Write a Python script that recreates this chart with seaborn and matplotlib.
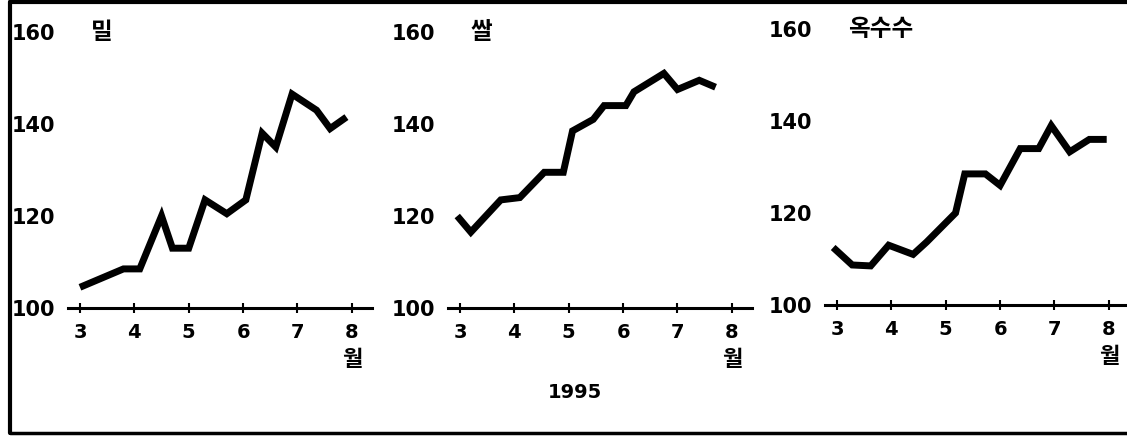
import numpy as np
import pandas as pd
import matplotlib
matplotlib.use('Agg')
import matplotlib.pyplot as plt
import seaborn as sns

# monthly price index, 1995
wheat_month = [3.0, 3.6, 3.8, 4.1, 4.5, 4.7, 5.0, 5.3, 5.7, 6.05, 6.35, 6.6, 6.9, 7.35, 7.6, 7.9]
wheat_index = [104.5, 107.5, 108.5, 108.5, 120, 113, 113, 123.5, 120.5, 123.5, 138, 135, 146.5, 143, 139, 141.5]

rice_month = [2.95, 3.2, 3.75, 4.1, 4.55, 4.9, 5.07, 5.45, 5.65, 6.05, 6.2, 6.75, 7.0, 7.4, 7.7]
rice_index = [120, 116.5, 123.5, 124, 129.5, 129.5, 138.5, 141, 144, 144, 147, 151, 147.5, 149.5, 148]

corn_month = [2.93, 3.28, 3.62, 3.95, 4.4, 4.65, 5.18, 5.35, 5.73, 6.0, 6.37, 6.71, 6.94, 7.28, 7.64, 7.96]
corn_index = [112.5, 108.7, 108.5, 113, 111, 113.7, 120, 128.5, 128.5, 126, 134, 134, 139, 133.3, 136, 136]

panel_titles = ['밀', '쌀', '옥수수']
month_ticks = [3, 4, 5, 6, 7, 8]
index_ticks = [100, 120, 140, 160]
year_label = '1995'
month_unit = '월'

sns.set_style('white')
plt.rcParams['font.family'] = ['DejaVu Sans', 'Noto Sans CJK KR']
plt.rcParams['font.weight'] = 'bold'
plt.rcParams['text.color'] = 'black'
plt.rcParams['xtick.color'] = 'black'
plt.rcParams['ytick.color'] = 'black'

kr_font = ['Noto Sans CJK KR', 'DejaVu Sans']

fig = plt.figure(figsize=(11.27, 4.36), dpi=100)

series = [(wheat_month, wheat_index), (rice_month, rice_index), (corn_month, corn_index)]
# left edge / bottom edge in pixels for each panel
lefts = [68, 448, 825]
bottoms = [308, 308, 305]

for i, ((mx, my), title) in enumerate(zip(series, panel_titles)):
    df = pd.DataFrame({'month': mx, 'index': my})
    ax = fig.add_axes([lefts[i] / 1127, (436 - bottoms[i]) / 436, 304 / 1127, 276 / 436])
    sns.lineplot(data=df, x='month', y='index', ax=ax, color='black', lw=5,
                 solid_joinstyle='miter', solid_capstyle='butt', sort=False)
    ax.set_xlim(2.78, 8.37)
    ax.set_ylim(100, 160)
    ax.set_xticks(month_ticks)
    ax.set_yticks(index_ticks)
    ax.set_xticklabels([str(m) for m in month_ticks], fontsize=14, fontweight='bold')
    ax.set_yticklabels([str(v) for v in index_ticks], fontsize=15, fontweight='bold')
    ax.set_xlabel('')
    ax.set_ylabel('')
    for side in ['top', 'right', 'left']:
        ax.spines[side].set_visible(False)
    ax.spines['bottom'].set_linewidth(2.2)
    ax.spines['bottom'].set_color('black')
    ax.tick_params(axis='x', bottom=True, direction='inout', length=7, width=1.5, pad=7)
    ax.tick_params(axis='y', left=False, length=0, pad=9)
    ax.patch.set_alpha(0)

    ax.text(3.2, 160, title, fontsize=17, fontweight='black', ha='left', va='center',
            family=kr_font)
    ax.annotate(month_unit, xy=(8, 100), xytext=(0, -37), textcoords='offset points',
                ha='center', va='center', fontsize=16, fontweight='black',
                family=kr_font, annotation_clip=False)

fig.text(575 / 1127, (436 - 392) / 436, year_label, fontsize=14, fontweight='bold',
         ha='center', va='center')

# frame around the figure (open on the right)
fig.add_artist(plt.Line2D([10 / 1127, 1.0], [1 - 2 / 436, 1 - 2 / 436], color='black', lw=3,
                          transform=fig.transFigure))
fig.add_artist(plt.Line2D([10 / 1127, 1.0], [3 / 436, 3 / 436], color='black', lw=2.5,
                          transform=fig.transFigure))
fig.add_artist(plt.Line2D([10 / 1127, 10 / 1127], [3 / 436, 1 - 2 / 436], color='black', lw=3,
                          transform=fig.transFigure))

fig.savefig('out.png', dpi=100)
